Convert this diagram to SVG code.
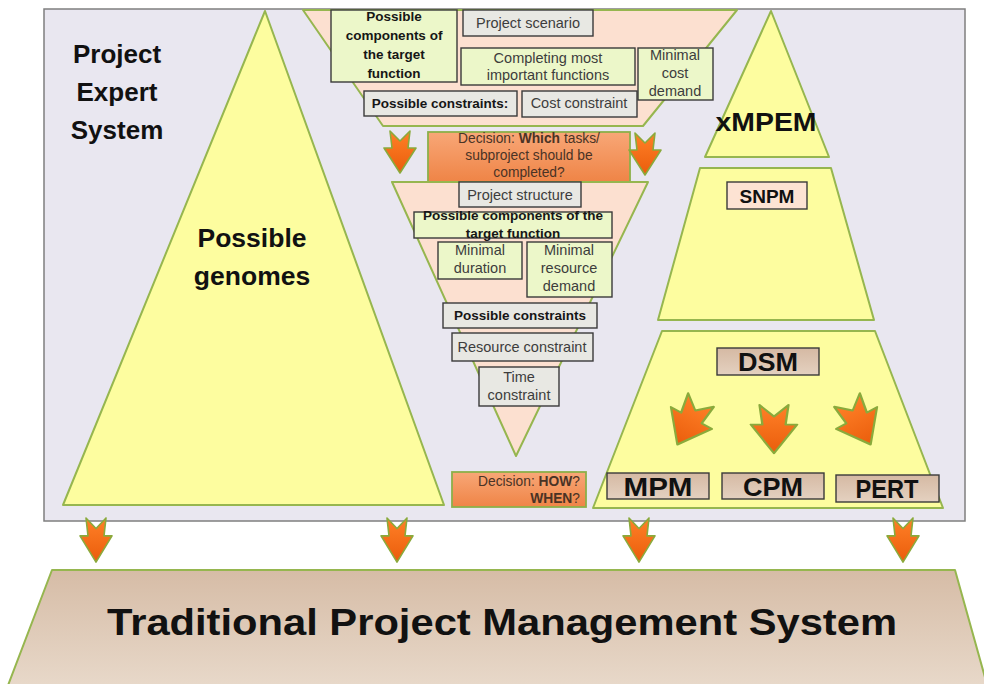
<svg xmlns="http://www.w3.org/2000/svg" width="984" height="684" viewBox="0 0 984 684">
<defs>
<style>
text{font-family:"Liberation Sans",Arial,sans-serif;}
.sm{font-size:14.5px;fill:#3d3d3d;text-anchor:middle}
.smb{font-size:13.5px;font-weight:bold;fill:#161616;text-anchor:middle}
.dec{font-size:13.8px;fill:#4a3325}
.big{font-weight:bold;fill:#111;text-anchor:middle}
.g{fill:#ecf7c9;stroke:#3a3a3a;stroke-width:1.4}
.gr{fill:#e8e8e3;stroke:#3a3a3a;stroke-width:1.4}
.tan{fill:url(#tg);stroke:#3a3a3a;stroke-width:1.4}
.shape{stroke:#96b64f;stroke-width:2;stroke-linejoin:round}
.yel{fill:#fdfd9f}
.peach{fill:#fce0d0}
.or{fill:url(#dg);stroke:#8cb04a;stroke-width:1.8}
.arr{fill:url(#og);stroke:#8aaa3c;stroke-width:1.6;stroke-linejoin:round}
</style>
<linearGradient id="og" x1="0" y1="0" x2="0" y2="1"><stop offset="0" stop-color="#ff8027"/><stop offset="1" stop-color="#ea5d0c"/></linearGradient>
<linearGradient id="dg" x1="0" y1="0" x2="0" y2="1"><stop offset="0" stop-color="#f8a777"/><stop offset="1" stop-color="#ef8446"/></linearGradient>
<linearGradient id="tg" x1="0" y1="0" x2="0" y2="1"><stop offset="0" stop-color="#d5b9a3"/><stop offset="1" stop-color="#e4d1c0"/></linearGradient>
<linearGradient id="bg" x1="0" y1="0" x2="0" y2="1"><stop offset="0" stop-color="#d6bca6"/><stop offset="1" stop-color="#e8d9ca"/></linearGradient>
<path id="ar" d="M-10,0 L0,10 L10,0 L8,17 L16,17 L0,42 L-16,17 L-8,17 Z"/>
</defs>

<g id="panel">
<rect x="44" y="9" width="921" height="512" fill="#e9e7f0" stroke="#7f7f7f" stroke-width="1.5"/>
<text class="big" font-size="26" x="117" y="63">Project</text>
<text class="big" font-size="26" x="117" y="101">Expert</text>
<text class="big" font-size="26" x="117" y="139">System</text>
</g>

<g id="genomes">
<polygon class="shape yel" points="265,11 444,505 63,505"/>
<text class="big" font-size="26.5" x="252" y="247">Possible</text>
<text class="big" font-size="26.5" x="252" y="285">genomes</text>
</g>

<g id="scenario-level">
<polygon class="shape peach" points="303,10 737,10 643,126 383,126"/>
<g id="components1">
<rect class="g" x="331" y="10" width="126" height="72"/>
<text class="smb" x="394" y="21">Possible</text>
<text class="smb" x="394" y="40">components of</text>
<text class="smb" x="394" y="59">the target</text>
<text class="smb" x="394" y="78">function</text>
</g>
<g id="project-scenario">
<rect class="gr" x="463" y="10" width="130" height="26"/>
<text class="sm" x="528" y="28">Project scenario</text>
</g>
<g id="completing">
<rect class="g" x="461" y="48" width="174" height="37"/>
<text class="sm" x="548" y="63">Completing most</text>
<text class="sm" x="548" y="80">important functions</text>
</g>
<g id="min-cost">
<rect class="g" x="638" y="48" width="75" height="52"/>
<text class="sm" x="675" y="60">Minimal</text>
<text class="sm" x="675" y="78">cost</text>
<text class="sm" x="675" y="96">demand</text>
</g>
<g id="constraints1">
<rect class="gr" x="364" y="91" width="153" height="25"/>
<text class="smb" x="440" y="108">Possible constraints:</text>
</g>
<g id="cost-constraint">
<rect class="gr" x="522" y="91" width="115" height="26"/>
<text class="sm" x="579" y="108">Cost constraint</text>
</g>
</g>

<g id="decision1">
<rect class="or" x="428" y="132" width="202" height="50"/>
<text class="dec" x="529" y="143" text-anchor="middle">Decision: <tspan font-weight="bold">Which</tspan> tasks/</text>
<text class="dec" x="529" y="160" text-anchor="middle">subproject should be</text>
<text class="dec" x="529" y="177" text-anchor="middle">completed?</text>
</g>

<g id="structure-level">
<polygon class="shape peach" points="392,182 648,182 516,456"/>
<g id="project-structure">
<rect class="gr" x="459" y="182" width="122" height="25"/>
<text class="sm" x="520" y="200">Project structure</text>
</g>
<g id="components2">
<rect class="g" x="414" y="212" width="198" height="26"/>
<text class="smb" x="513" y="220">Possible components of the</text>
<text class="smb" x="513" y="238">target function</text>
</g>
<g id="min-duration">
<rect class="g" x="438" y="242" width="84" height="37"/>
<text class="sm" x="480" y="255">Minimal</text>
<text class="sm" x="480" y="273">duration</text>
</g>
<g id="min-resource">
<rect class="g" x="527" y="242" width="85" height="55"/>
<text class="sm" x="569" y="255">Minimal</text>
<text class="sm" x="569" y="273">resource</text>
<text class="sm" x="569" y="291">demand</text>
</g>
<g id="constraints2">
<rect class="gr" x="443" y="303" width="154" height="25"/>
<text class="smb" x="520" y="320">Possible constraints</text>
</g>
<g id="resource-constraint">
<rect class="gr" x="452" y="333" width="141" height="28"/>
<text class="sm" x="522" y="352">Resource constraint</text>
</g>
<g id="time-constraint">
<rect class="gr" x="479" y="367" width="80" height="39"/>
<text class="sm" x="519" y="382">Time</text>
<text class="sm" x="519" y="400">constraint</text>
</g>
</g>

<g id="decision2">
<rect class="or" x="452" y="472" width="134" height="35"/>
<text class="dec" x="580" y="486" text-anchor="end">Decision: <tspan font-weight="bold">HOW</tspan>?</text>
<text class="dec" x="580" y="503" text-anchor="end"><tspan font-weight="bold">WHEN</tspan>?</text>
</g>

<g id="xmpem">
<polygon class="shape yel" points="771,11 829,157 705,157"/>
<text class="big" font-size="26" x="766" y="131" textLength="101" lengthAdjust="spacingAndGlyphs">xMPEM</text>
</g>

<g id="snpm-level">
<polygon class="shape yel" points="700,168 831,168 874,320 658,320"/>
<rect x="727" y="182" width="80" height="27" fill="#fde3d3" stroke="#3a3a3a" stroke-width="1.4"/>
<text class="big" font-size="19" x="767" y="203">SNPM</text>
</g>

<g id="dsm-level">
<polygon class="shape yel" points="662,331 875,331 943,508 593,508"/>
<g id="dsm">
<rect class="tan" x="717" y="348" width="102" height="27"/>
<text class="big" font-size="25" x="768" y="371" textLength="60" lengthAdjust="spacingAndGlyphs">DSM</text>
</g>
<g id="mpm">
<rect class="tan" x="607" y="473" width="102" height="26"/>
<text class="big" font-size="25" x="658" y="496" textLength="69" lengthAdjust="spacingAndGlyphs">MPM</text>
</g>
<g id="cpm">
<rect class="tan" x="722" y="473" width="102" height="26"/>
<text class="big" font-size="25" x="773" y="496" textLength="60" lengthAdjust="spacingAndGlyphs">CPM</text>
</g>
<g id="pert">
<rect class="tan" x="836" y="475" width="103" height="27"/>
<text class="big" font-size="25" x="887" y="498" textLength="63" lengthAdjust="spacingAndGlyphs">PERT</text>
</g>
</g>

<g id="traditional">
<polygon class="shape" fill="url(#bg)" points="52,570 955,570 988,688 7,688"/>
<text class="big" font-size="37" x="502" y="635" textLength="790" lengthAdjust="spacingAndGlyphs">Traditional Project Management System</text>
</g>

<g id="connectors">
<use href="#ar" class="arr" transform="translate(400,131)"/>
<use href="#ar" class="arr" transform="translate(645,133)"/>
<use href="#ar" class="arr" transform="translate(701,400) rotate(28) scale(1.45,1.2)"/>
<use href="#ar" class="arr" transform="translate(774,405) scale(1.45,1.15)"/>
<use href="#ar" class="arr" transform="translate(847,400) rotate(-28) scale(1.45,1.2)"/>
<use href="#ar" class="arr" transform="translate(96,518) scale(1,1.05)"/>
<use href="#ar" class="arr" transform="translate(397,518) scale(1,1.05)"/>
<use href="#ar" class="arr" transform="translate(639,518) scale(1,1.05)"/>
<use href="#ar" class="arr" transform="translate(903,518) scale(1,1.05)"/>
</g>
</svg>
